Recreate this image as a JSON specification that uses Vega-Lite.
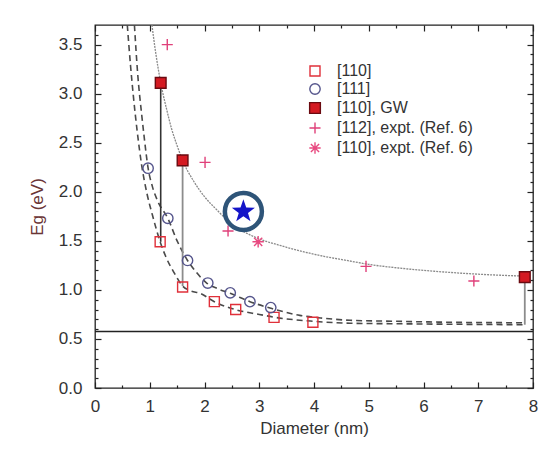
{
  "$schema": "https://vega.github.io/schema/vega-lite/v6.json",
  "width": 438,
  "height": 363,
  "autosize": "none",
  "padding": {"left": 95, "top": 25, "right": 26, "bottom": 63},
  "background": "white",
  "config": {
    "font": "Liberation Sans",
    "view": {"stroke": "#222", "strokeWidth": 1.3},
    "axis": {"grid": false, "domain": false, "tickColor": "#222", "tickWidth": 1.2, "labelColor": "#333", "titleColor": "#333", "labelFontSize": 17, "titleFontSize": 17, "titleFontWeight": "normal", "labelFlush": false, "labelOverlap": false}
  },
  "datasets": {
    "hline": [{"e": 0.575}],
    "gw": [
      {"d": 1.04, "e": 3.7}, {"d": 1.1, "e": 3.45}, {"d": 1.15, "e": 3.27}, {"d": 1.2, "e": 3.11},
      {"d": 1.3, "e": 2.86}, {"d": 1.4, "e": 2.64}, {"d": 1.5, "e": 2.47}, {"d": 1.6, "e": 2.32},
      {"d": 1.8, "e": 2.11}, {"d": 2.0, "e": 1.95}, {"d": 2.2, "e": 1.83}, {"d": 2.4, "e": 1.72},
      {"d": 2.7, "e": 1.6}, {"d": 3.0, "e": 1.52}, {"d": 3.4, "e": 1.45}, {"d": 3.8, "e": 1.39},
      {"d": 4.2, "e": 1.34}, {"d": 4.6, "e": 1.3}, {"d": 5.0, "e": 1.26}, {"d": 5.6, "e": 1.22},
      {"d": 6.2, "e": 1.19}, {"d": 7.0, "e": 1.16}, {"d": 7.85, "e": 1.14}
    ],
    "c110": [
      {"d": 0.59, "e": 3.7}, {"d": 0.65, "e": 3.28}, {"d": 0.7, "e": 2.98}, {"d": 0.77, "e": 2.62},
      {"d": 0.85, "e": 2.28}, {"d": 0.95, "e": 1.98}, {"d": 1.05, "e": 1.76}, {"d": 1.19, "e": 1.49},
      {"d": 1.3, "e": 1.33}, {"d": 1.45, "e": 1.17}, {"d": 1.6, "e": 1.04}, {"d": 1.75, "e": 0.99},
      {"d": 1.92, "e": 0.965}, {"d": 2.18, "e": 0.88}, {"d": 2.59, "e": 0.795}, {"d": 3.0, "e": 0.75},
      {"d": 3.29, "e": 0.72}, {"d": 3.99, "e": 0.68}, {"d": 4.66, "e": 0.66}, {"d": 5.5, "e": 0.655},
      {"d": 6.5, "e": 0.65}, {"d": 7.85, "e": 0.645}
    ],
    "c111": [
      {"d": 0.72, "e": 3.7}, {"d": 0.78, "e": 3.2}, {"d": 0.85, "e": 2.8}, {"d": 0.9, "e": 2.55},
      {"d": 0.97, "e": 2.24}, {"d": 1.05, "e": 2.05}, {"d": 1.15, "e": 1.9}, {"d": 1.33, "e": 1.73},
      {"d": 1.5, "e": 1.5}, {"d": 1.69, "e": 1.3}, {"d": 1.85, "e": 1.18}, {"d": 2.04, "e": 1.07},
      {"d": 2.25, "e": 1.01}, {"d": 2.47, "e": 0.965}, {"d": 2.83, "e": 0.88}, {"d": 3.23, "e": 0.81},
      {"d": 3.74, "e": 0.74}, {"d": 4.2, "e": 0.71}, {"d": 4.66, "e": 0.69}, {"d": 5.5, "e": 0.68},
      {"d": 6.5, "e": 0.67}, {"d": 7.85, "e": 0.665}
    ],
    "vblack": [{"d": 1.2, "e": 3.11, "e2": 1.49}],
    "vgray": [{"d": 1.6, "e": 2.32, "e2": 1.04}, {"d": 7.85, "e": 1.13, "e2": 0.645}],
    "pts": [
      {"d": 1.19, "e": 1.49, "s": "[110]"}, {"d": 1.6, "e": 1.03, "s": "[110]"},
      {"d": 2.18, "e": 0.88, "s": "[110]"}, {"d": 2.57, "e": 0.8, "s": "[110]"},
      {"d": 3.27, "e": 0.72, "s": "[110]"}, {"d": 3.98, "e": 0.67, "s": "[110]"},
      {"d": 0.97, "e": 2.24, "s": "[111]"}, {"d": 1.33, "e": 1.73, "s": "[111]"},
      {"d": 1.69, "e": 1.3, "s": "[111]"}, {"d": 2.06, "e": 1.07, "s": "[111]"},
      {"d": 2.47, "e": 0.97, "s": "[111]"}, {"d": 2.83, "e": 0.88, "s": "[111]"},
      {"d": 3.21, "e": 0.82, "s": "[111]"},
      {"d": 1.2, "e": 3.11, "s": "[110], GW"}, {"d": 1.6, "e": 2.32, "s": "[110], GW"},
      {"d": 7.85, "e": 1.13, "s": "[110], GW"},
      {"d": 1.32, "e": 3.5, "s": "[112], expt. (Ref. 6)"}, {"d": 2.01, "e": 2.3, "s": "[112], expt. (Ref. 6)"},
      {"d": 2.43, "e": 1.6, "s": "[112], expt. (Ref. 6)"}, {"d": 4.95, "e": 1.24, "s": "[112], expt. (Ref. 6)"},
      {"d": 6.92, "e": 1.09, "s": "[112], expt. (Ref. 6)"},
      {"d": 2.98, "e": 1.49, "s": "[110], expt. (Ref. 6)"}
    ],
    "star": [{"d": 2.71, "e": 1.8}]
  },
  "layer": [
    {
      "data": {"name": "hline"},
      "mark": {"type": "rule", "color": "#222", "strokeWidth": 1.5},
      "encoding": {
        "y": {"field": "e", "type": "quantitative", "scale": {"domain": [0, 3.7], "nice": false, "zero": false}, "axis": null}
      }
    },
    {
      "data": {"name": "gw"},
      "mark": {"type": "line", "color": "#8a8a8a", "strokeWidth": 1.3, "strokeDash": [2, 1], "clip": true, "interpolate": "monotone"},
      "encoding": {
        "x": {"field": "d", "type": "quantitative", "scale": {"domain": [0, 8], "nice": false, "zero": false},
              "axis": {"orient": "bottom", "title": "Diameter (nm)", "values": [0, 1, 2, 3, 4, 5, 6, 7, 8], "ticks": false, "labelPadding": 10, "titlePadding": 6}},
        "y": {"field": "e", "type": "quantitative", "scale": {"domain": [0, 3.7], "nice": false, "zero": false},
              "axis": {"orient": "left", "title": "Eg (eV)", "titleColor": "#6a3535", "values": [0, 0.5, 1, 1.5, 2, 2.5, 3, 3.5], "format": ".1f", "ticks": false, "labelPadding": 13, "titlePadding": 12}}
      }
    },
    {
      "data": {"name": "c110"},
      "mark": {"type": "line", "color": "#4a4a4a", "strokeWidth": 1.6, "strokeDash": [6, 4], "clip": true, "interpolate": "monotone"},
      "encoding": {
        "x": {"field": "d", "type": "quantitative", "scale": {"domain": [0, 8], "nice": false, "zero": false},
              "axis": {"orient": "bottom", "title": null, "labels": false, "values": [0, 1, 2, 3, 4, 5, 6, 7, 8], "tickSize": -6}},
        "y": {"field": "e", "type": "quantitative", "scale": {"domain": [0, 3.7], "nice": false, "zero": false},
              "axis": {"orient": "left", "title": null, "labels": false, "values": [0, 0.5, 1, 1.5, 2, 2.5, 3, 3.5], "tickSize": -6}}
      }
    },
    {
      "data": {"name": "c111"},
      "mark": {"type": "line", "color": "#4a4a4a", "strokeWidth": 1.6, "strokeDash": [6, 4], "clip": true, "interpolate": "monotone"},
      "encoding": {
        "x": {"field": "d", "type": "quantitative", "scale": {"domain": [0, 8], "nice": false, "zero": false},
              "axis": {"orient": "bottom", "title": null, "labels": false, "values": [0.5, 1.5, 2.5, 3.5, 4.5, 5.5, 6.5, 7.5], "tickSize": -3}},
        "y": {"field": "e", "type": "quantitative", "scale": {"domain": [0, 3.7], "nice": false, "zero": false},
              "axis": {"orient": "left", "title": null, "labels": false, "values": [0.1, 0.2, 0.3, 0.4, 0.6, 0.7, 0.8, 0.9, 1.1, 1.2, 1.3, 1.4, 1.6, 1.7, 1.8, 1.9, 2.1, 2.2, 2.3, 2.4, 2.6, 2.7, 2.8, 2.9, 3.1, 3.2, 3.3, 3.4, 3.6], "tickSize": -3}}
      }
    },
    {
      "data": {"name": "vblack"},
      "mark": {"type": "rule", "color": "#333", "strokeWidth": 1.6},
      "encoding": {
        "x": {"field": "d", "type": "quantitative", "scale": {"domain": [0, 8], "nice": false, "zero": false},
              "axis": {"orient": "top", "title": null, "labels": false, "values": [0, 1, 2, 3, 4, 5, 6, 7, 8], "tickSize": -6}},
        "y": {"field": "e", "type": "quantitative", "scale": {"domain": [0, 3.7], "nice": false, "zero": false},
              "axis": {"orient": "right", "title": null, "labels": false, "values": [0, 0.5, 1, 1.5, 2, 2.5, 3, 3.5], "tickSize": -6}},
        "y2": {"field": "e2"}
      }
    },
    {
      "data": {"name": "vgray"},
      "mark": {"type": "rule", "color": "#8c8c8c", "strokeWidth": 1.8},
      "encoding": {
        "x": {"field": "d", "type": "quantitative", "scale": {"domain": [0, 8], "nice": false, "zero": false},
              "axis": {"orient": "top", "title": null, "labels": false, "values": [0.5, 1.5, 2.5, 3.5, 4.5, 5.5, 6.5, 7.5], "tickSize": -3}},
        "y": {"field": "e", "type": "quantitative", "scale": {"domain": [0, 3.7], "nice": false, "zero": false},
              "axis": {"orient": "right", "title": null, "labels": false, "values": [0.1, 0.2, 0.3, 0.4, 0.6, 0.7, 0.8, 0.9, 1.1, 1.2, 1.3, 1.4, 1.6, 1.7, 1.8, 1.9, 2.1, 2.2, 2.3, 2.4, 2.6, 2.7, 2.8, 2.9, 3.1, 3.2, 3.3, 3.4, 3.6], "tickSize": -3}},
        "y2": {"field": "e2"}
      }
    },
    {
      "data": {"name": "pts"},
      "mark": {"type": "point", "strokeWidth": 1.4, "opacity": 1},
      "encoding": {
        "x": {"field": "d", "type": "quantitative", "axis": null},
        "y": {"field": "e", "type": "quantitative", "axis": null},
        "shape": {"field": "s", "type": "nominal",
                  "scale": {"domain": ["[110]", "[111]", "[110], GW", "[112], expt. (Ref. 6)", "[110], expt. (Ref. 6)"],
                            "range": ["square", "circle", "square", "M-1,0H1M0,-1V1", "M-1,0H1M0,-1V1M-0.72,-0.72L0.72,0.72M-0.72,0.72L0.72,-0.72"]},
                  "legend": {"orient": "none", "legendX": 212, "legendY": 38, "title": null, "labelFontSize": 16, "labelColor": "#333", "symbolStrokeWidth": 1.4, "rowPadding": 2, "labelOffset": 14, "padding": 0}},
        "stroke": {"field": "s", "type": "nominal",
                   "scale": {"domain": ["[110]", "[111]", "[110], GW", "[112], expt. (Ref. 6)", "[110], expt. (Ref. 6)"],
                             "range": ["#e0303a", "#55558c", "#6a0a10", "#e0407a", "#e84a80"]}},
        "fill": {"field": "s", "type": "nominal",
                 "scale": {"domain": ["[110]", "[111]", "[110], GW", "[112], expt. (Ref. 6)", "[110], expt. (Ref. 6)"],
                           "range": ["transparent", "transparent", "#d41a22", "transparent", "transparent"]}},
        "size": {"field": "s", "type": "nominal",
                 "scale": {"domain": ["[110]", "[111]", "[110], GW", "[112], expt. (Ref. 6)", "[110], expt. (Ref. 6)"],
                           "range": [100, 130, 100, 200, 150]}}
      }
    },
    {
      "data": {"name": "star"},
      "mark": {"type": "point", "shape": "circle", "size": 1370, "filled": false, "fill": "white", "stroke": "#2e5478", "strokeWidth": 4.5, "opacity": 1},
      "encoding": {
        "x": {"field": "d", "type": "quantitative", "axis": null},
        "y": {"field": "e", "type": "quantitative", "axis": null}
      }
    },
    {
      "data": {"name": "star"},
      "mark": {"type": "point", "shape": "M0,-1L0.235,-0.324L0.951,-0.309L0.38,0.124L0.588,0.809L0,0.4L-0.588,0.809L-0.38,0.124L-0.951,-0.309L-0.235,-0.324Z", "size": 590, "filled": true, "fill": "#1414c8", "stroke": null, "opacity": 1},
      "encoding": {
        "x": {"field": "d", "type": "quantitative", "axis": null},
        "y": {"field": "e", "type": "quantitative", "axis": null}
      }
    }
  ],
  "resolve": {"axis": {"x": "independent", "y": "independent"}}
}
